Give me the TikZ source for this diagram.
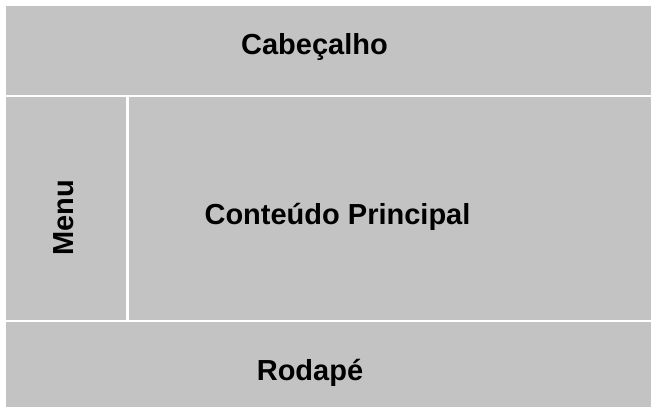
\documentclass[tikz,border=0pt]{standalone}
\usepackage{fontspec}
\setmainfont{Liberation Sans}
\usepackage{tikz}
\definecolor{panelgray}{RGB}{195,195,195}
\tikzset{
  panel/.style={fill=panelgray},
  paneltext/.style={font=\bfseries\fontsize{29}{33}\selectfont, anchor=base, inner sep=0pt}
}

\begin{document}
\begin{tikzpicture}[x=1pt, y=-1pt]

  \useasboundingbox[fill=white] (0,0) rectangle (658,415);

  % Panels
  \fill[panel] (6,6) rectangle (651,95);
  \fill[panel] (6,97) rectangle (126,320);
  \fill[panel] (129,97) rectangle (651,320);
  \fill[panel] (6,322) rectangle (651,407);

  % Labels
  \node[paneltext] (header) at (314.5,54)
    {Cabeçalho};
  \node[paneltext, rotate=90] (menu) at (73,218)
    {Menu};
  \node[paneltext] (main) at (337.5,224)
    {Conteúdo Principal};
  \node[paneltext] (footer) at (310,380)
    {Rodapé};

\end{tikzpicture}
\end{document}
